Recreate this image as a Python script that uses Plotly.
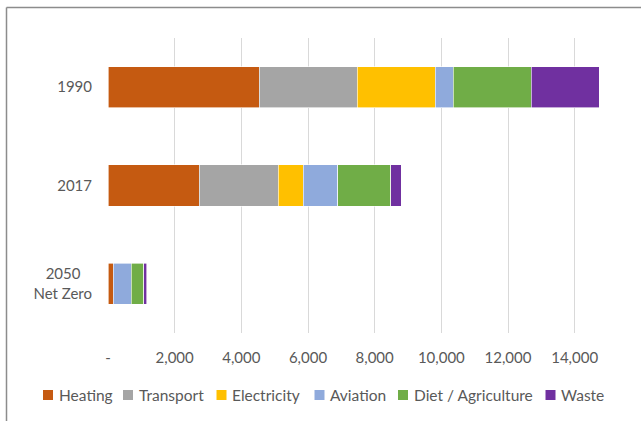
import plotly.graph_objects as go

categories = ["1990", "2017", "2050 Net Zero"]
category_labels = ["1990", "2017", "2050\u00a0\u00a0\u00a0<br>Net Zero"]
series_names = ["Heating", "Transport", "Electricity", "Aviation", "Diet / Agriculture", "Waste"]
heating = [4530, 2730, 150]
transport = [2940, 2370, 0]
electricity = [2340, 760, 0]
aviation = [540, 1030, 550]
diet = [2340, 1590, 370]
waste = [2050, 310, 90]
colors = ["#C55A11", "#A5A5A5", "#FFC000", "#8FAADC", "#70AD47", "#7030A0"]
tick_vals = [0, 2000, 4000, 6000, 8000, 10000, 12000, 14000]
tick_text = ["-", "2,000", "4,000", "6,000", "8,000", "10,000", "12,000", "14,000"]

FONT = "Lato"
GREY = "#595959"

fig = go.Figure()
for name, vals, col in zip(series_names, [heating, transport, electricity, aviation, diet, waste], colors):
    fig.add_trace(go.Bar(
        y=categories, x=vals, name=name, orientation="h",
        marker=dict(color=col, line=dict(color="white", width=0.6)),
        showlegend=False,
    ))

W, H = 641, 421
ml, mr, mt, mb = 108, 33, 38, 88
pw = W - ml - mr
ph = H - mt - mb

def px_x(x):
    return (x - ml) / pw

def px_y(y):
    return (H - mb - y) / ph

# legend drawn as coloured squares plus text, laid out like the reference
legend_left_px = [43, 123, 216.5, 314.5, 398, 545.5]
legend_y_px = 395
shapes = []
annotations = []
for name, col, lx in zip(series_names, colors, legend_left_px):
    shapes.append(dict(type="rect", xref="paper", yref="paper",
                       x0=px_x(lx), x1=px_x(lx + 10),
                       y0=px_y(legend_y_px + 5), y1=px_y(legend_y_px - 5),
                       fillcolor=col, line=dict(width=0)))
    annotations.append(dict(xref="paper", yref="paper", x=px_x(lx + 13.5), y=px_y(legend_y_px),
                            xanchor="left", yanchor="middle", showarrow=False,
                            text=name, font=dict(family=FONT, size=15.5, color=GREY)))

shapes += [
    dict(type="line", xref="paper", yref="paper",
         x0=px_x(6.5), x1=px_x(W + 5), y0=px_y(7.5), y1=px_y(7.5),
         line=dict(color="#8C8C8C", width=1.5)),
    dict(type="line", xref="paper", yref="paper",
         x0=px_x(6.5), x1=px_x(6.5), y0=px_y(7.5), y1=px_y(H + 5),
         line=dict(color="#8C8C8C", width=1.5)),
]

fig.update_layout(
    width=W, height=H,
    margin=dict(l=ml, r=mr, t=mt, b=mb),
    barmode="stack", bargap=0.58,
    paper_bgcolor="white", plot_bgcolor="white",
    font=dict(family=FONT, size=15, color=GREY),
    showlegend=False,
    xaxis=dict(range=[0, 15000], tickvals=tick_vals, ticktext=tick_text,
               showgrid=True, gridcolor="#D9D9D9", gridwidth=1,
               zeroline=False, showline=False, ticklabelstandoff=14,
               tickfont=dict(size=15, color=GREY)),
    yaxis=dict(autorange="reversed", showgrid=False, zeroline=False,
               showline=False, ticklabelstandoff=15,
               tickvals=categories, ticktext=category_labels,
               tickfont=dict(size=15, color=GREY)),
    shapes=shapes,
    annotations=annotations,
)

fig.write_html("out.html")
